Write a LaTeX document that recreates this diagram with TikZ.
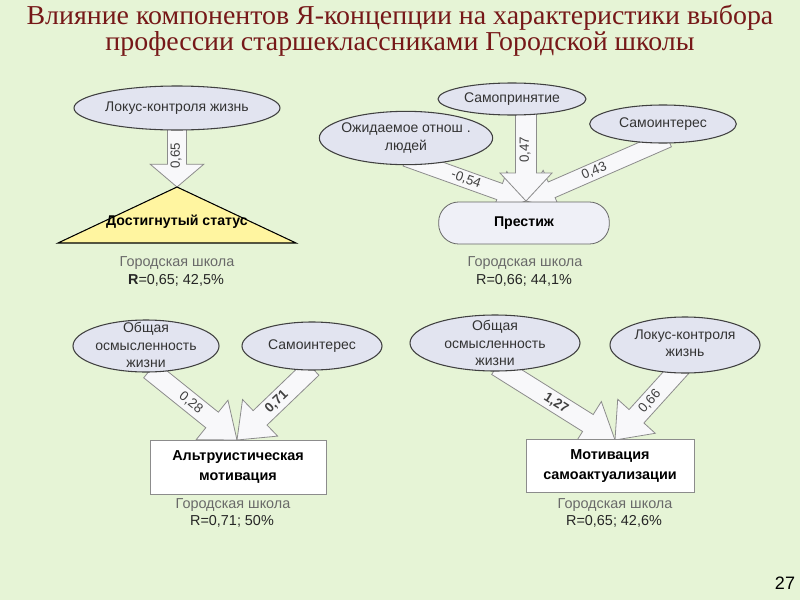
\documentclass[tikz,border=0pt]{standalone}
\usepackage{fontspec}
\setmainfont{Liberation Sans}
\newfontfamily\titlefont{Liberation Serif}
\usetikzlibrary{shapes.geometric,calc}
\pgfdeclarelayer{bg}\pgfdeclarelayer{arr}\pgfsetlayers{bg,arr,main}
\definecolor{bgc}{RGB}{230,244,214}
\definecolor{titlec}{RGB}{118,24,24}
\definecolor{ellc}{RGB}{226,228,240}
\definecolor{arrc}{RGB}{248,248,250}
\definecolor{triy}{RGB}{255,245,160}
\definecolor{subc}{RGB}{105,105,105}
\tikzset{
 ell/.style={ellipse, draw=black!75, fill=ellc, line width=0.8pt, inner sep=0pt, font=\fontsize{10.5}{12}\selectfont, align=center, text=black!80},
 elltext/.style={font=\fontsize{10.5}{13}\selectfont, align=center, text=black!80, inner sep=0pt},
 box/.style={rectangle, draw=black!45, fill=white, line width=0.6pt, font=\bfseries\fontsize{10.8}{15}\selectfont, align=center},
 arrowbody/.style={draw=black!45, fill=arrc, line width=0.6pt, line join=miter},
 wlab/.style={font=\fontsize{10}{11}\selectfont, text=black!75, inner sep=0pt},
 sub/.style={font=\fontsize{10.8}{12}\selectfont, text=subc},
 rline/.style={font=\fontsize{10.8}{12}\selectfont, text=black!85},
}
\newcommand{\blockarr}[5]{%
 \coordinate (ba-h) at ($(#2)!#5!(#1)$);
 \draw[arrowbody] ($(#1)!#3!90:(#2)$) -- ($(ba-h)!#3!90:(#2)$) -- ($(ba-h)!#4!90:(#2)$) -- (#2) -- ($(ba-h)!#4!-90:(#2)$) -- ($(ba-h)!#3!-90:(#2)$) -- ($(#1)!#3!-90:(#2)$) -- cycle;}
\begin{document}
\begin{tikzpicture}[x=0.75pt,y=-0.75pt]
\begin{pgfonlayer}{bg}\fill[bgc] (0,0) rectangle (800,600);\end{pgfonlayer}
\useasboundingbox (0,0) rectangle (800,600);
% title
\node[font=\titlefont\fontsize{20.5}{16}\selectfont, text=titlec, align=center, xscale=1.02] (title) at (400,31) {Влияние компонентов Я-концепции на характеристики выбора\\профессии старшеклассниками Городской школы};
% ---------- panel 1
\node[ell, minimum width=154.5pt, minimum height=33pt] (lk1) at (177,108) {Локус-контроля жизнь};
\coordinate (apex) at (177,187);
\filldraw[fill=triy, draw=black, line width=0.8pt] (58,243) -- (apex) -- (296,243) -- cycle;
\node[font=\bfseries\fontsize{10.6}{12}\selectfont] (ds) at (177,222) {Достигнутый статус};
\coordinate (s1) at (177,126);
\begin{pgfonlayer}{arr}\blockarr{s1}{apex}{7.1pt}{20pt}{17pt}\end{pgfonlayer}
\node[wlab, rotate=90] (l065) at (176,156) {0,65};
\node[sub] (g1) at (177,263) {Городская школа};
\node[rline] (r1) at (176,280) {\textbf{R}=0,65; 42,5\%};
% ---------- panel 2
\node[ell, minimum width=111pt, minimum height=24pt] (sp) at (512,99) {Самопринятие};
\node[ell, minimum width=130pt, minimum height=40pt] (oo) at (406,138) {};
\node[elltext] (oot) at (406,138) {Ожидаемое отнош .\\людей};
\node[ell, minimum width=110pt, minimum height=28.5pt] (si2) at (663,124) {Самоинтерес};
\node[draw=black!60, fill=ellc!55!white, line width=0.6pt, rounded corners=15pt, minimum width=128pt, minimum height=31.5pt, font=\bfseries\fontsize{10.6}{12}\selectfont] (pr) at (524,223) {Престиж};
\coordinate (t2) at (526,201);
\coordinate (a2l) at (406,158);
\coordinate (a2r) at (668,139);
\coordinate (a2c) at (526,112);
\begin{pgfonlayer}{arr}
\blockarr{a2l}{t2}{6.4pt}{16pt}{21pt}
\blockarr{a2r}{t2}{6.4pt}{16pt}{21pt}
\blockarr{a2c}{t2}{7.9pt}{19.5pt}{21pt}
\end{pgfonlayer}
\node[wlab, rotate=90] (l047) at (525,150) {0,47};
\path (a2l) -- (t2) node[wlab, sloped, pos=0.5] (l054) {-0,54};
\path (a2r) -- (t2) node[wlab, sloped, pos=0.52] (l043) {0,43};
\node[sub] (g2) at (525,263) {Городская школа};
\node[rline] (r2) at (524,280) {R=0,66; 44,1\%};
% ---------- panel 3
\node[ell, minimum width=109.5pt, minimum height=39pt] (om3) at (146,346) {};
\node[elltext] (om3t) at (146,345) {Общая\\осмысленность\\жизни};
\node[ell, minimum width=105pt, minimum height=36pt] (si3) at (312,346) {Самоинтерес};
\node[box, minimum width=132pt, minimum height=40.5pt] (alt) at (238,467) {Альтруистическая\\мотивация};
\coordinate (t3) at (237,440);
\coordinate (a3l) at (150,370);
\coordinate (a3r) at (312,368);
\begin{pgfonlayer}{arr}
\blockarr{a3l}{t3}{7.5pt}{19pt}{24pt}
\blockarr{a3r}{t3}{7.5pt}{19pt}{24pt}
\end{pgfonlayer}
\path (a3l) -- (t3) node[wlab, sloped, pos=0.47] (l028) {0,28};
\path (a3r) -- (t3) node[wlab, sloped, pos=0.47, font=\bfseries\fontsize{10}{11}\selectfont] (l071) {0,71};
\node[sub] (g3) at (233,505) {Городская школа};
\node[rline] (r3) at (232,521) {R=0,71; 50\%};
% ---------- panel 4
\node[ell, minimum width=127.5pt, minimum height=42pt] (om4) at (495,343) {};
\node[elltext] (om4t) at (495,343) {Общая\\осмысленность\\жизни};
\node[ell, minimum width=112.5pt, minimum height=42pt] (lk4) at (685,345) {};
\node[elltext] (lk4t) at (685,343) {Локус-контроля\\жизнь};
\node[box, minimum width=126pt, minimum height=40pt] (msa) at (610,466) {Мотивация\\самоактуализации};
\coordinate (t4) at (615,440);
\coordinate (a4l) at (497,366);
\coordinate (a4r) at (682,366);
\begin{pgfonlayer}{arr}
\blockarr{a4l}{t4}{7.5pt}{19pt}{24pt}
\blockarr{a4r}{t4}{7.5pt}{19pt}{24pt}
\end{pgfonlayer}
\path (a4l) -- (t4) node[wlab, sloped, pos=0.5, font=\bfseries\fontsize{10}{11}\selectfont] (l127) {1,27};
\path (a4r) -- (t4) node[wlab, sloped, pos=0.48] (l066) {0,66};
\node[sub] (g4) at (615,505) {Городская школа};
\node[rline] (r4) at (614,521) {R=0,65; 42,6\%};
% page number
\node[font=\fontsize{13.5}{15}\selectfont] (pg) at (785,583) {27};
\end{tikzpicture}
\end{document}
